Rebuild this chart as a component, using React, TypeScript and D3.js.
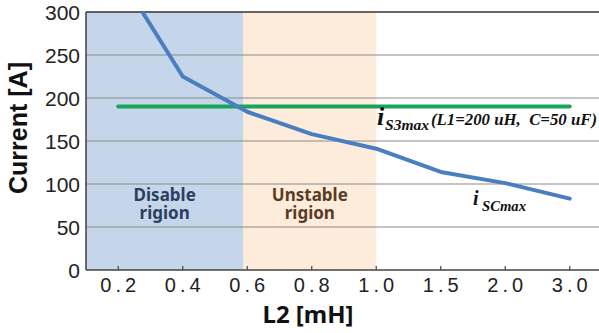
import React, { useEffect } from "react";
import * as d3 from "d3";

const categories = ["0.2", "0.4", "0.6", "0.8", "1.0", "1.5", "2.0", "3.0"];
const iSCmax = [345, 225, 184, 158, 141, 114, 101, 83];
const iS3max = [190, 190, 190, 190, 190, 190, 190, 190];
const yTicks = [0, 50, 100, 150, 200, 250, 300];
// region boundaries in category-index units
const regions = [
  { from: -0.5, to: 1.94, fill: "#c6d6ea", color: "#2b3f5e", lines: ["Disable", "rigion"] },
  { from: 1.94, to: 4, fill: "#fdebdc", color: "#5a3b24", lines: ["Unstable", "rigion"] },
];

const W = 599;
const H = 333;
const M = { left: 86, top: 12, right: 602, bottom: 270 };

export default function App() {
  useEffect(() => {
    document.body.style.margin = "0";
  }, []);

  const x = d3.scaleBand<string>().domain(categories).range([M.left, M.right]).padding(0);
  const bw = x.bandwidth();
  const xi = d3
    .scaleLinear()
    .domain([0, categories.length - 1])
    .range([(x(categories[0]) as number) + bw / 2, (x(categories[categories.length - 1]) as number) + bw / 2]);
  const y = d3.scaleLinear().domain([0, 300]).range([M.bottom, M.top]);

  const line = d3
    .line<number>()
    .x((_, i) => xi(i))
    .y((d) => y(d));

  const serif = "'Liberation Serif', 'DejaVu Serif', serif";
  const sans = "'Liberation Sans', Arial, sans-serif";
  const noto = "'Noto Sans', 'Open Sans', sans-serif";

  return (
    <svg width={W} height={H} style={{ display: "block", background: "#fff" }}>
      <defs>
        <clipPath id="plot">
          <rect x={M.left} y={M.top} width={W - M.left} height={M.bottom - M.top} />
        </clipPath>
      </defs>
      {regions.map((r, i) => {
        const x0 = Math.max(M.left, xi(r.from));
        const x1 = xi(r.to);
        return <rect key={i} x={x0} y={M.top} width={x1 - x0} height={M.bottom - M.top} fill={r.fill} />;
      })}
      {yTicks
        .filter((t) => t > 0)
        .map((t) => (
          <line
            key={t}
            x1={M.left}
            x2={W}
            y1={y(t)}
            y2={y(t)}
            stroke={t === 300 ? "#333" : "#8a8a8a"}
            strokeWidth={t === 300 ? 1.4 : 1}
          />
        ))}
      {regions.map((r, i) => {
        const cx = (Math.max(M.left, xi(r.from)) + xi(r.to)) / 2;
        return (
          <g key={i} fill={r.color} fontFamily={noto} fontWeight="bold" fontSize={17} textAnchor="middle">
            <text x={cx} y={201}>{r.lines[0]}</text>
            <text x={cx} y={219}>{r.lines[1]}</text>
          </g>
        );
      })}
      <g clipPath="url(#plot)">
        <path d={line(iS3max) || ""} fill="none" stroke="#18a55b" strokeWidth={4} strokeLinecap="round" />
        <path d={line(iSCmax) || ""} fill="none" stroke="#4a7ec0" strokeWidth={4} strokeLinecap="round" strokeLinejoin="round" />
      </g>
      {/* axes */}
      <line x1={M.left} x2={M.left} y1={M.top} y2={M.bottom} stroke="#333" strokeWidth={1.4} />
      <line x1={M.left} x2={W} y1={M.bottom} y2={M.bottom} stroke="#444" strokeWidth={1.4} />
      {categories.map((c, i) => (
        <g key={c}>
          <line x1={xi(i)} x2={xi(i)} y1={M.bottom - 4} y2={M.bottom} stroke="#444" strokeWidth={1.2} />
          <text x={xi(i) + 2} y={292} textAnchor="middle" fontFamily={sans} fontSize={20} letterSpacing={4} fill="#222">
            {c}
          </text>
        </g>
      ))}
      {yTicks.map((t) => (
        <text key={t} x={80} y={y(t) + 7.5} textAnchor="end" fontFamily={sans} fontSize={21} fill="#222">
          {t}
        </text>
      ))}
      <text
        transform={`translate(27, 128) rotate(-90)`}
        textAnchor="middle"
        fontFamily={sans}
        fontWeight="bold"
        fontSize={25}
        fill="#111"
      >
        Current [A]
      </text>
      <text x={308} y={323} textAnchor="middle" fontFamily={noto} fontWeight="bold" fontSize={24} fill="#111">
        L2 [mH]
      </text>
      {/* series labels */}
      <g fontFamily={serif} fontWeight="bold" fontStyle="italic" fill="#111">
        <text x={377} y={125} fontSize={26}>i</text>
        <text x={385} y={130} fontSize={15.5} textLength={44} lengthAdjust="spacingAndGlyphs">S3max</text>
        <text x={431} y={125} fontSize={16} textLength={166} lengthAdjust="spacingAndGlyphs" style={{ whiteSpace: "pre" }}>
          {"(L1=200 uH,  C=50 uF)"}
        </text>
        <text x={473} y={205} fontSize={20}>i</text>
        <text x={482} y={211} fontSize={15} textLength={44} lengthAdjust="spacingAndGlyphs">SCmax</text>
      </g>
    </svg>
  );
}
